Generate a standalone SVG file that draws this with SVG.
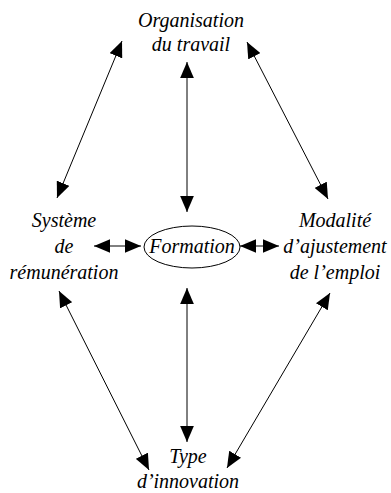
<svg xmlns="http://www.w3.org/2000/svg" width="391" height="493" viewBox="0 0 391 493">
<style>
text{font-family:"Liberation Serif","Times New Roman",serif;font-style:italic;font-size:20px;fill:#000;text-anchor:middle}
.c line{stroke:#000;stroke-width:1;marker-start:url(#ah);marker-end:url(#ah)}
</style>
<defs>
<marker id="ah" markerUnits="userSpaceOnUse" markerWidth="16" markerHeight="14" refX="14" refY="6" orient="auto-start-reverse" viewBox="0 0 14 12">
<path d="M0,0 L14,6 L0,12 Z" fill="#000"/>
</marker>
</defs>
<rect width="391" height="493" fill="#fff"/>
<g id="organisation"><text x="191" y="27">Organisation</text><text x="191" y="51">du travail</text></g>
<g id="systeme"><text x="64" y="227">Système</text><text x="64" y="253">de</text><text x="64" y="279">rémunération</text></g>
<g id="formation"><ellipse cx="192" cy="247" rx="48" ry="21" fill="none" stroke="#000" stroke-width="1"/><text x="192" y="253">Formation</text></g>
<g id="modalite"><text x="335" y="227">Modalité</text><text x="335" y="253">d’ajustement</text><text x="335" y="279">de l’emploi</text></g>
<g id="type"><text x="188" y="463">Type</text><text x="188" y="488">d’innovation</text></g>
<g class="c" id="connectors">
<line x1="187" y1="62" x2="187" y2="212"/>
<line x1="122" y1="41" x2="57" y2="198"/>
<line x1="247" y1="42" x2="328" y2="199"/>
<line x1="94" y1="246" x2="141" y2="246"/>
<line x1="240" y1="246" x2="279" y2="246"/>
<line x1="59" y1="291" x2="149" y2="470"/>
<line x1="187" y1="288" x2="187" y2="442"/>
<line x1="330" y1="293" x2="227" y2="468"/>
</g>
</svg>
